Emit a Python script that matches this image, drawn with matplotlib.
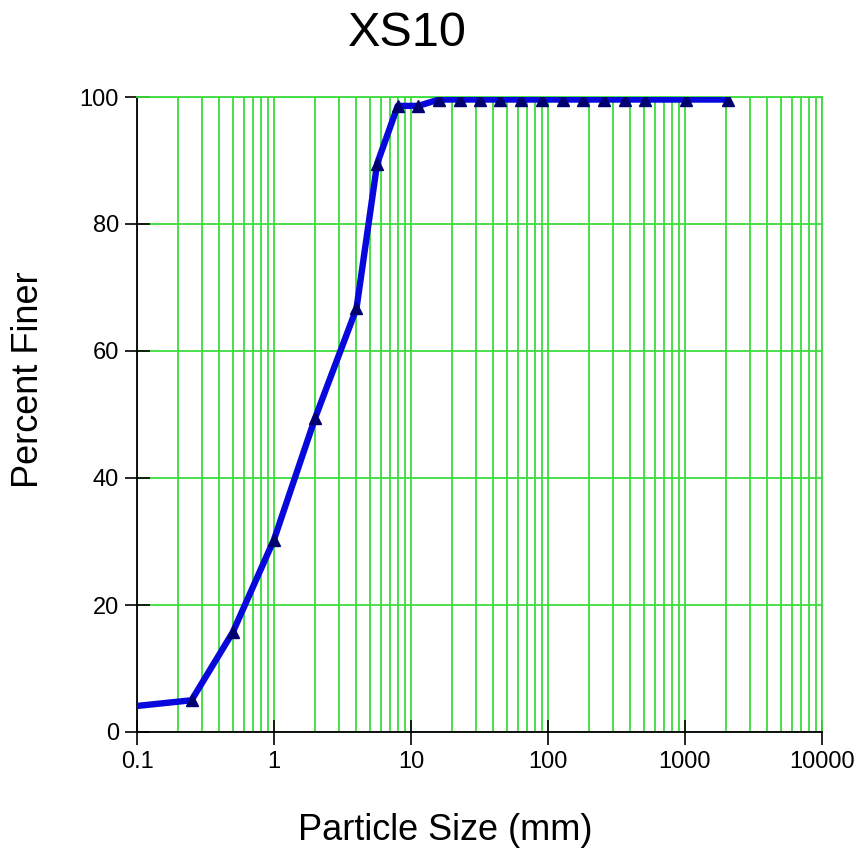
import numpy as np
import matplotlib
matplotlib.use("Agg")
import matplotlib.pyplot as plt
from matplotlib.ticker import LogLocator, FixedLocator, FixedFormatter, NullFormatter

plt.rcParams['font.family'] = ['Liberation Sans', 'DejaVu Sans']

# grain size distribution, sample XS10
size_mm = [0.1, 0.25, 0.5, 1, 2, 4, 5.66, 8, 11.3, 16, 22.6, 32, 45, 64, 90,
           128, 180, 256, 362, 512, 1024, 2048]
pct_finer = [4.1, 5.0, 15.7, 30.3, 49.5, 66.7, 89.5, 98.6, 98.6, 99.6, 99.6, 99.6, 99.6, 99.6, 99.6,
             99.6, 99.6, 99.6, 99.6, 99.6, 99.6, 99.6]

x_ticks = [0.1, 1, 10, 100, 1000, 10000]
x_labels = ['0.1', '1', '10', '100', '1000', '10000']
y_ticks = [0, 20, 40, 60, 80, 100]

grid_green = '#3cdc3c'

fig = plt.figure(figsize=(8.58, 8.48), dpi=100)
ax = fig.add_axes([137 / 858, 1 - 732 / 848, 685 / 858, 635 / 848])

ax.plot(size_mm, pct_finer, color='#0808dc', lw=4.6, zorder=3, solid_joinstyle='round')
ax.plot(size_mm[1:], pct_finer[1:], linestyle='none', marker='^', ms=8,
        color='#000070', zorder=4)

ax.set_xscale('log')
ax.set_xlim(0.1, 10000)
ax.set_ylim(0, 100)

ax.xaxis.set_major_locator(FixedLocator(x_ticks))
ax.xaxis.set_major_formatter(FixedFormatter(x_labels))
ax.xaxis.set_minor_locator(LogLocator(base=10, subs=np.arange(2, 10), numticks=20))
ax.xaxis.set_minor_formatter(NullFormatter())
ax.set_yticks(y_ticks)

ax.grid(True, which='both', axis='x', color=grid_green, lw=1.3)
ax.grid(True, which='major', axis='y', color=grid_green, lw=1.3)
ax.set_axisbelow(True)

ax.tick_params(which='major', direction='inout', length=18, width=1.2, labelsize=17)
ax.tick_params(axis='x', which='major', pad=5)
ax.tick_params(axis='y', which='major', pad=4)
ax.tick_params(which='minor', length=0)

for s in ['top', 'right']:
    ax.spines[s].set_color(grid_green)
    ax.spines[s].set_linewidth(1.3)
for s in ['left', 'bottom']:
    ax.spines[s].set_linewidth(1.3)

fig.text(407 / 858, 1 - 46 / 848, 'XS10', fontsize=35, ha='center', va='baseline')
fig.text(445 / 858, 1 - 840 / 848, 'Particle Size (mm)', fontsize=26, ha='center', va='baseline')
fig.text(29 / 858, 1 - 380 / 848, 'Percent Finer', fontsize=26, ha='center', va='center',
         rotation=90)

fig.savefig('out.png', dpi=100)
